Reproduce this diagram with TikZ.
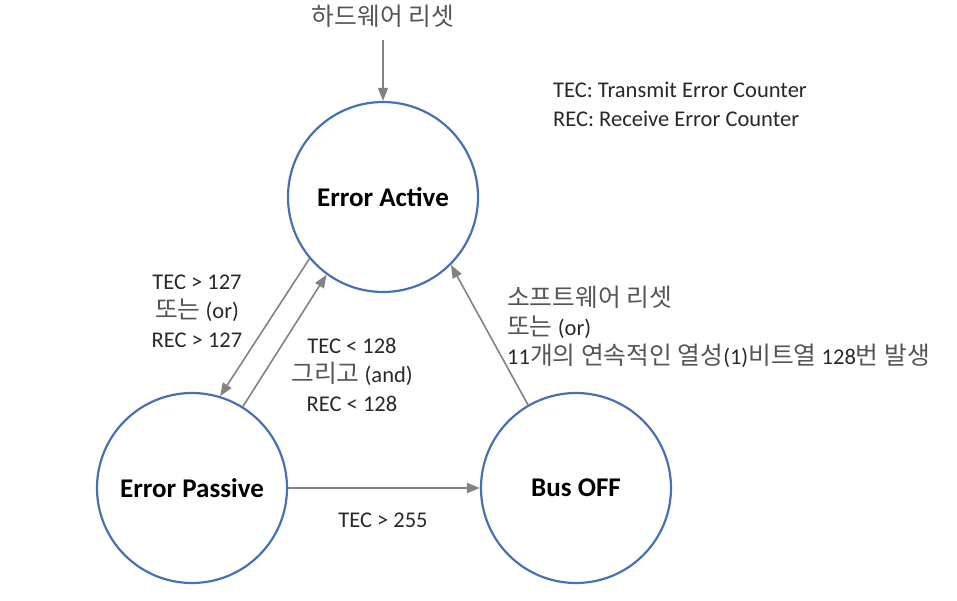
\documentclass[tikz,border=0pt]{standalone}
\usepackage{fontspec}
\setmainfont{Carlito}
\newfontfamily\kr[Scale=1.1]{Noto Sans CJK KR}
\usetikzlibrary{arrows.meta}
\definecolor{cblue}{RGB}{72,112,180}
\definecolor{agray}{RGB}{130,130,130}
\definecolor{tdark}{RGB}{40,40,40}
\definecolor{kgray}{RGB}{85,85,85}
\newcommand{\ko}[1]{{\kr\color{kgray}#1}}
\begin{document}
\begin{tikzpicture}[x=1pt,y=-1pt,
  state/.style={circle,draw=cblue,line width=2.2pt,minimum size=190pt,inner sep=0pt,
    font=\fontsize{27}{31}\selectfont\bfseries,text=black},
  conn/.style={draw=agray,line width=1.6pt,-{Triangle[length=13pt,width=10pt]}},
  lbl/.style={font=\fontsize{22.5}{29}\selectfont,text=tdark,align=center,inner sep=0pt}]
\useasboundingbox (0,0) rectangle (957,601);
\node[state] (EA) at (383,197) {Error Active};
\node[state] (EP) at (192,488) {Error Passive};
\node[state] (BO) at (576,488) {Bus OFF};
\node[lbl] (hw) at (383,16) {\ko{하드웨어 리셋}};
\coordinate (hwend) at (383,40);
\draw[conn] (hwend) -- (EA.north);
\node[lbl,align=left,anchor=west] (leg) at (553,104) {TEC: Transmit Error Counter\\REC: Receive Error Counter};
\draw[conn] (EA.220) -- (EP.73);
\draw[conn] (EP.58) -- (EA.234);
\draw[conn] (BO.120) -- (EA.315);
\draw[conn] (EP.east) -- (BO.west);
\node[lbl] (l1) at (197,311) {TEC > 127\\\ko{또는} (or)\\REC > 127};
\node[lbl] (l2) at (352,375) {TEC < 128\\\ko{그리고} (and)\\REC < 128};
\node[lbl,align=left,anchor=west] (l3) at (507,327) {\ko{소프트웨어 리셋}\\\ko{또는} (or)\\11\ko{개의 연속적인 열성}(1)\ko{비트열} 128\ko{번 발생}};
\node[lbl] (l4) at (383,520) {TEC > 255};
\end{tikzpicture}
\end{document}
